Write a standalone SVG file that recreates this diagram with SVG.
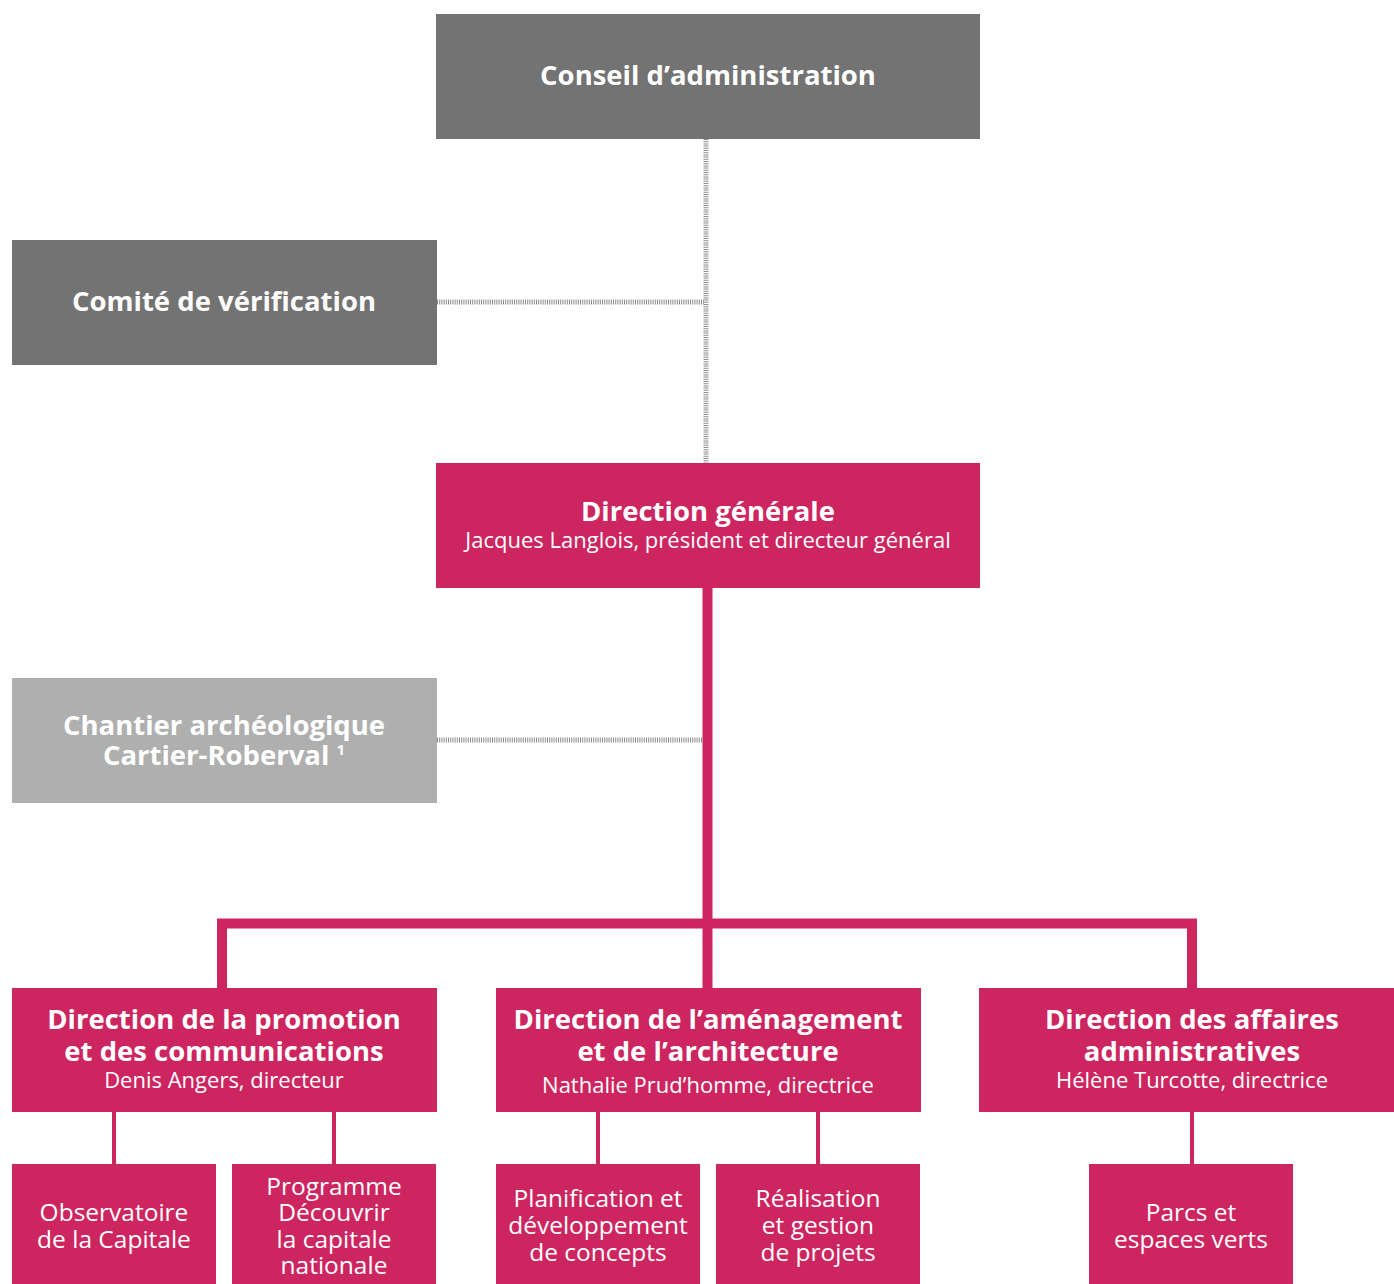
<svg xmlns="http://www.w3.org/2000/svg" width="1394" height="1284" viewBox="0 0 1394 1284">
<style>
.dark{fill:#737373}
.light{fill:#afafaf}
.pink{fill:#cd2560}
.t{font-family:"Open Sans","Noto Sans","Liberation Sans",sans-serif;fill:#ffffff;text-anchor:middle}
.b{font-weight:bold;font-size:27.5px}
.s{font-size:22px}
.m{font-size:24.5px}
.dot{stroke:#8a8a8a;stroke-width:5;stroke-dasharray:1 1.2;fill:none}
.pl{stroke:#cd2560;fill:none}
</style>
<rect width="1394" height="1284" fill="#ffffff"/>
<g id="connectors">
<line class="dot" x1="706" y1="139" x2="706" y2="463"/>
<line class="dot" x1="437" y1="302" x2="704" y2="302"/>
<line class="dot" x1="437" y1="740" x2="704" y2="740"/>
<line class="pl" stroke-width="10" x1="707.5" y1="588" x2="707.5" y2="988"/>
<polyline class="pl" stroke-width="10" points="222,988 222,923.5 1192,923.5 1192,988"/>
<line class="pl" stroke-width="4" x1="114" y1="1112" x2="114" y2="1164"/>
<line class="pl" stroke-width="4" x1="334" y1="1112" x2="334" y2="1164"/>
<line class="pl" stroke-width="4" x1="598" y1="1112" x2="598" y2="1164"/>
<line class="pl" stroke-width="4" x1="818" y1="1112" x2="818" y2="1164"/>
<line class="pl" stroke-width="4" x1="1192" y1="1112" x2="1192" y2="1164"/>
</g>
<g id="conseil">
<rect class="dark" x="436" y="14" width="544" height="125"/>
<text class="t b" x="708" y="85">Conseil d’administration</text>
</g>
<g id="comite">
<rect class="dark" x="12" y="240" width="425" height="125"/>
<text class="t b" x="224" y="311">Comité de vérification</text>
</g>
<g id="direction-generale">
<rect class="pink" x="436" y="463" width="544" height="125"/>
<text class="t b" x="708" y="521">Direction générale</text>
<text class="t s" x="708" y="548">Jacques Langlois, président et directeur général</text>
</g>
<g id="chantier">
<rect class="light" x="12" y="678" width="425" height="125"/>
<text class="t b" x="224" y="735">Chantier archéologique</text>
<text class="t b" x="224" y="765">Cartier-Roberval <tspan font-size="15" dy="-10">1</tspan></text>
</g>
<g id="promotion">
<rect class="pink" x="12" y="988" width="425" height="124"/>
<text class="t b" x="224" y="1029">Direction de la promotion</text>
<text class="t b" x="224" y="1061">et des communications</text>
<text class="t s" x="224" y="1088">Denis Angers, directeur</text>
</g>
<g id="amenagement">
<rect class="pink" x="496" y="988" width="425" height="124"/>
<text class="t b" x="708" y="1029">Direction de l’aménagement</text>
<text class="t b" x="708" y="1061">et de l’architecture</text>
<text class="t s" x="708" y="1093">Nathalie Prud’homme, directrice</text>
</g>
<g id="affaires">
<rect class="pink" x="979" y="988" width="415" height="124"/>
<text class="t b" x="1192" y="1029">Direction des affaires</text>
<text class="t b" x="1192" y="1061">administratives</text>
<text class="t s" x="1192" y="1088">Hélène Turcotte, directrice</text>
</g>
<g id="observatoire">
<rect class="pink" x="12" y="1164" width="204" height="120"/>
<text class="t m" x="114" y="1221">Observatoire</text>
<text class="t m" x="114" y="1248">de la Capitale</text>
</g>
<g id="programme">
<rect class="pink" x="232" y="1164" width="204" height="120"/>
<text class="t m" x="334" y="1195">Programme</text>
<text class="t m" x="334" y="1221">Découvrir</text>
<text class="t m" x="334" y="1248">la capitale</text>
<text class="t m" x="334" y="1274">nationale</text>
</g>
<g id="planification">
<rect class="pink" x="496" y="1164" width="204" height="120"/>
<text class="t m" x="598" y="1207">Planification et</text>
<text class="t m" x="598" y="1234">développement</text>
<text class="t m" x="598" y="1261">de concepts</text>
</g>
<g id="realisation">
<rect class="pink" x="716" y="1164" width="204" height="120"/>
<text class="t m" x="818" y="1207">Réalisation</text>
<text class="t m" x="818" y="1234">et gestion</text>
<text class="t m" x="818" y="1261">de projets</text>
</g>
<g id="parcs">
<rect class="pink" x="1089" y="1164" width="204" height="120"/>
<text class="t m" x="1191" y="1221">Parcs et</text>
<text class="t m" x="1191" y="1248">espaces verts</text>
</g>
</svg>
